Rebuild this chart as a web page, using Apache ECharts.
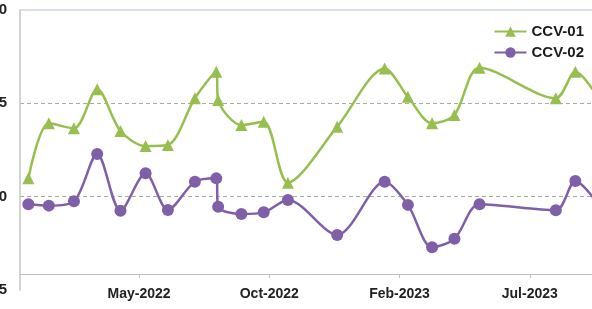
<!DOCTYPE html>
<html>
<head>
<meta charset="utf-8">
<script src="https://cdn.jsdelivr.net/npm/echarts@6/dist/echarts.min.js"></script>
<style>html,body{margin:0;padding:0;background:#fff}#c{width:592px;height:309px}</style>
</head>
<body>
<div id="c"></div>
<script>
const dates = ['2022-01-21','2022-02-12','2022-03-11','2022-04-05','2022-04-30','2022-05-27','2022-06-20','2022-07-19','2022-08-11','2022-08-13','2022-09-07','2022-10-01','2022-10-27','2022-12-19','2023-02-08','2023-03-05','2023-03-31','2023-04-24','2023-05-21','2023-08-11','2023-09-01','2023-09-27'];
const ccv01 = [100.98,103.93,103.66,105.75,103.52,102.71,102.77,105.27,106.69,105.18,103.84,104.01,100.75,103.75,106.87,105.35,103.93,104.37,106.91,105.27,106.69,105.2];
const ccv02 = [99.59,99.52,99.75,102.29,99.25,101.25,99.29,100.80,100.98,99.46,99.07,99.16,99.82,97.95,100.80,99.56,97.29,97.74,99.59,99.27,100.84,99.5];
const tickDates = ['2022-05-20','2022-10-07','2023-02-24','2023-07-14'];
const tickLabels = ['May-2022','Oct-2022','Feb-2023','Jul-2023'];
const seriesNames = ['CCV-01','CCV-02'];

const DAY = 86400000;
const day = d => Math.round(+new Date(d + 'T00:00:00Z') / DAY);
const tickDays = tickDates.map(day);

const chart = echarts.init(document.getElementById('c'), null, {renderer:'canvas'});
chart.setOption({
  animation: false,
  backgroundColor: '#fff',
  textStyle: {fontFamily: 'Liberation Sans, Arial, sans-serif'},
  grid: {left: 20, top: 10, width: 600, height: 280, containLabel: false, outerBoundsMode: 'none'},
  legend: {
    orient: 'vertical', right: 3, top: 19, itemGap: 6,
    itemWidth: 32, itemHeight: 13,
    textStyle: {fontSize: 15, fontWeight: 'bold', color: '#1a1a1a'},
    data: seriesNames
  },
  xAxis: [{
    type: 'value',
    min: day('2022-01-12'), max: day('2023-10-19'),
    offset: -16,
    axisLine: {lineStyle: {color: '#bfbfbf', width: 1}},
    axisTick: {show: true, length: 4, customValues: tickDays, lineStyle: {color: '#bfbfbf'}},
    axisLabel: {
      customValues: tickDays, margin: 13, fontSize: 14, fontWeight: 'bold', color: '#222',
      formatter: v => { const i = tickDays.indexOf(Math.round(v)); return i >= 0 ? tickLabels[i] : ''; }
    },
    splitLine: {show: false}
  }, {
    type: 'value', position: 'top', min: 0, max: 1,
    axisLine: {show: true, lineStyle: {color: '#ccd6e4', width: 1.5}},
    axisTick: {show: false}, axisLabel: {show: false}, splitLine: {show: false}
  }],
  yAxis: {
    type: 'value', min: 95, max: 110, interval: 5,
    axisLine: {show: true, lineStyle: {color: '#c4c4c4', width: 1.5}},
    axisTick: {show: false},
    axisLabel: {margin: 13, fontSize: 15, fontWeight: 'bold', color: '#222'},
    splitLine: {show: true, showMinLine: false, showMaxLine: false, lineStyle: {color: '#aaaaaa', type: [4, 3], width: 1}}
  },
  series: [{
    name: seriesNames[0], type: 'line', xAxisIndex: 0,
    data: dates.map((d, i) => [day(d), ccv01[i]]),
    smooth: 0.3, symbol: 'triangle', symbolSize: 12,
    lineStyle: {color: '#96bf4f', width: 2.5},
    itemStyle: {color: '#96bf4f'}
  }, {
    name: seriesNames[1], type: 'line', xAxisIndex: 0,
    data: dates.map((d, i) => [day(d), ccv02[i]]),
    smooth: 0.3, symbol: 'circle', symbolSize: 12,
    lineStyle: {color: '#7f5fa8', width: 2.5},
    itemStyle: {color: '#7f5fa8'}
  }]
});
</script>
</body>
</html>
